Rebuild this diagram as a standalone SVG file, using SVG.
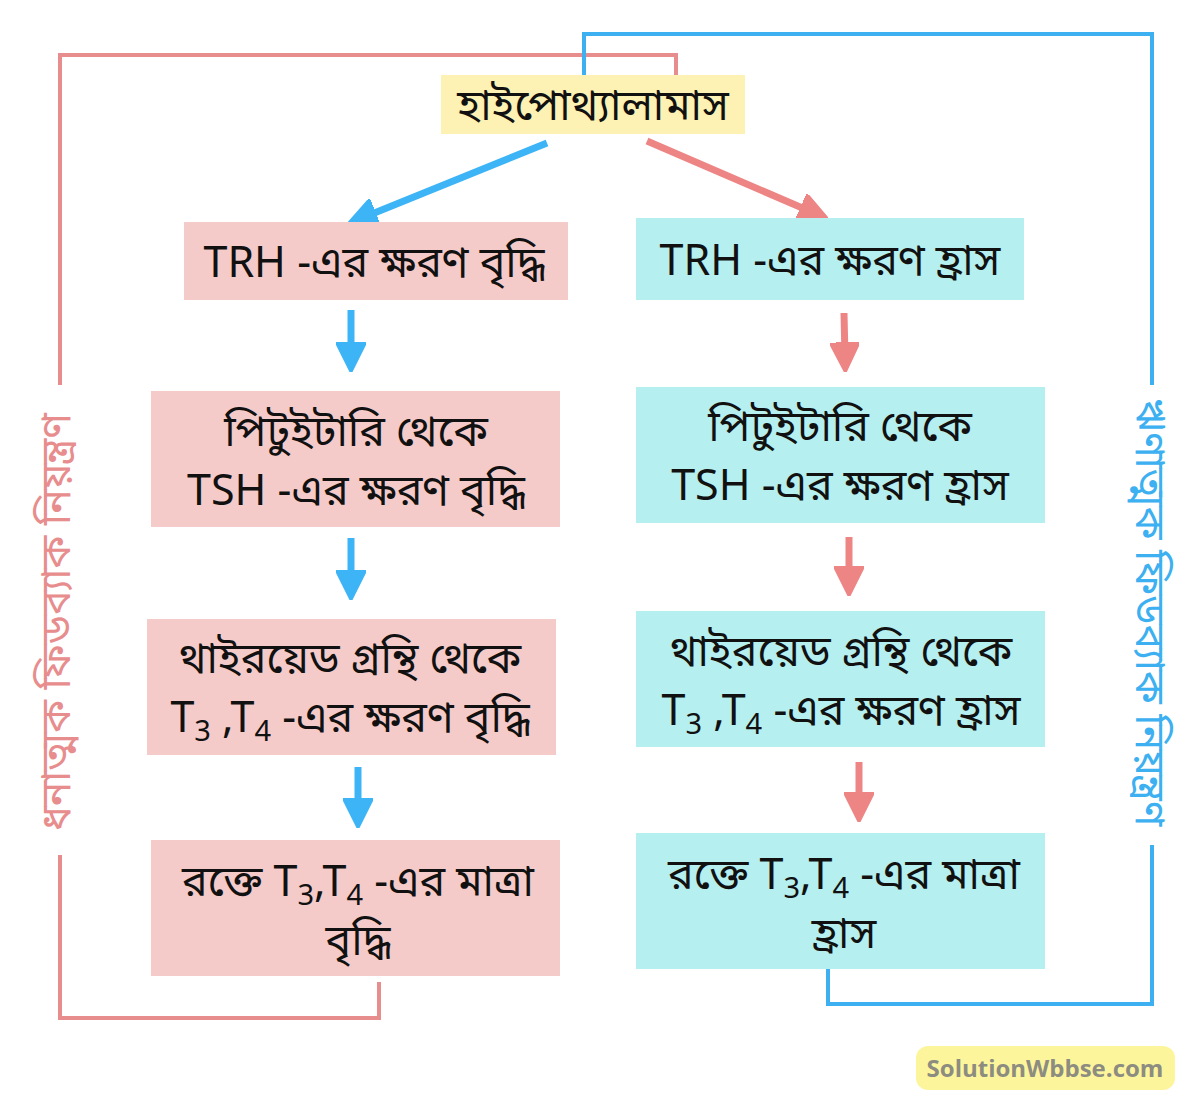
<svg xmlns="http://www.w3.org/2000/svg" width="1200" height="1109" viewBox="0 0 1200 1109">
<defs>
<style>
.t{font-family:"Noto Sans Bengali","Noto Serif Bengali","Lohit Bengali","Noto Sans","Liberation Sans",sans-serif;font-size:43px;fill:#111;text-anchor:middle}
.pink{fill:#f5cbca}
.cyan{fill:#b5efef}
.lp{stroke:#e88d8d;stroke-width:4;fill:none}
.lb{stroke:#3cb0f0;stroke-width:4;fill:none}
.ab{stroke:#3cb4f6;stroke-width:7;fill:none}
.ar{stroke:#ee8585;stroke-width:7;fill:none}
.sub{font-size:29px}
.vt{font-family:"Noto Sans Bengali","Noto Serif Bengali","Noto Sans","Liberation Sans",sans-serif;font-size:41px;text-anchor:middle}
</style>
<marker id="mb" viewBox="0 0 10 10" refX="5" refY="5" markerWidth="4.2" markerHeight="4.2" orient="auto" markerUnits="strokeWidth"><path d="M0,0 L10,5 L0,10 Z" fill="#3cb4f6" stroke="#3cb4f6" stroke-linejoin="round"/></marker>
<marker id="mr" viewBox="0 0 10 10" refX="5" refY="5" markerWidth="4.2" markerHeight="4.2" orient="auto" markerUnits="strokeWidth"><path d="M0,0 L10,5 L0,10 Z" fill="#ee8585" stroke="#ee8585" stroke-linejoin="round"/></marker>
</defs>
<rect width="1200" height="1109" fill="#fff"/>
<g id="connectors">
<polyline class="lp" points="676,75 676,55 60,55 60,385"/>
<polyline class="lp" points="60,855 60,1018 379,1018 379,982"/>
<polyline class="lb" points="584,75 584,34 1152,34 1152,385"/>
<polyline class="lb" points="1152,845 1152,1004 828,1004 828,969"/>
<line class="ab" x1="547" y1="143" x2="362" y2="218" marker-end="url(#mb)"/>
<line class="ar" x1="647" y1="141" x2="814" y2="213" marker-end="url(#mr)"/>
<line class="ab" x1="351" y1="310" x2="351" y2="357" marker-end="url(#mb)"/>
<line class="ab" x1="351" y1="538" x2="351" y2="585" marker-end="url(#mb)"/>
<line class="ab" x1="358" y1="767" x2="358" y2="813" marker-end="url(#mb)"/>
<line class="ar" x1="844" y1="313" x2="845" y2="357" marker-end="url(#mr)"/>
<line class="ar" x1="849" y1="537" x2="849" y2="581" marker-end="url(#mr)"/>
<line class="ar" x1="859" y1="762" x2="859" y2="807" marker-end="url(#mr)"/>
</g>
<g id="hypothalamus"><rect x="441" y="75" width="304" height="59" fill="#fdf1b3"/><text class="t" x="593" y="120" font-size="45">হাইপোথ্যালামাস</text></g>
<g id="trh-up"><rect class="pink" x="184" y="222" width="384" height="78"/><text class="t" x="374" y="277">TRH -এর ক্ষরণ বৃদ্ধি</text></g>
<g id="trh-down"><rect class="cyan" x="636" y="218" width="388" height="82"/><text class="t" x="830" y="275">TRH -এর ক্ষরণ হ্রাস</text></g>
<g id="tsh-up"><rect class="pink" x="151" y="391" width="409" height="136"/><text class="t" x="356" y="446">পিটুইটারি থেকে</text><text class="t" x="356" y="505">TSH -এর ক্ষরণ বৃদ্ধি</text></g>
<g id="tsh-down"><rect class="cyan" x="636" y="387" width="409" height="136"/><text class="t" x="840" y="441">পিটুইটারি থেকে</text><text class="t" x="840" y="500">TSH -এর ক্ষরণ হ্রাস</text></g>
<g id="thyroid-up"><rect class="pink" x="147" y="619" width="409" height="136"/><text class="t" x="350" y="673">থাইরয়েড গ্রন্থি থেকে</text><text class="t" x="350" y="732">T<tspan class="sub" dy="9">3</tspan><tspan dy="-9"> ,T</tspan><tspan class="sub" dy="9">4</tspan><tspan dy="-9"> -এর ক্ষরণ বৃদ্ধি</tspan></text></g>
<g id="thyroid-down"><rect class="cyan" x="636" y="611" width="409" height="136"/><text class="t" x="841" y="666">থাইরয়েড গ্রন্থি থেকে</text><text class="t" x="841" y="725">T<tspan class="sub" dy="9">3</tspan><tspan dy="-9"> ,T</tspan><tspan class="sub" dy="9">4</tspan><tspan dy="-9"> -এর ক্ষরণ হ্রাস</tspan></text></g>
<g id="blood-up"><rect class="pink" x="151" y="840" width="409" height="136"/><text class="t" x="358" y="896">রক্তে T<tspan class="sub" dy="9">3</tspan><tspan dy="-9">,T</tspan><tspan class="sub" dy="9">4</tspan><tspan dy="-9"> -এর মাত্রা</tspan></text><text class="t" x="358" y="955">বৃদ্ধি</text></g>
<g id="blood-down"><rect class="cyan" x="636" y="833" width="409" height="136"/><text class="t" x="844" y="889">রক্তে T<tspan class="sub" dy="9">3</tspan><tspan dy="-9">,T</tspan><tspan class="sub" dy="9">4</tspan><tspan dy="-9"> -এর মাত্রা</tspan></text><text class="t" x="844" y="948">হ্রাস</text></g>
<g id="positive-label"><text class="vt" fill="#e88d8d" transform="translate(70,622) rotate(-90)">ধনাত্মক ফিডব্যাক নিয়ন্ত্রণ</text></g>
<g id="negative-label"><text class="vt" fill="#3cb0f0" transform="translate(1136,612) rotate(90)">ঋণাত্মক ফিডব্যাক নিয়ন্ত্রণ</text></g>
<g id="watermark"><rect x="916" y="1046" width="259" height="44" rx="12" fill="#fdf59c"/><text x="1045" y="1077" font-family="'Open Sans','Liberation Sans',sans-serif" font-weight="bold" font-size="24" fill="#8c8c80" text-anchor="middle">SolutionWbbse.com</text></g>
</svg>
